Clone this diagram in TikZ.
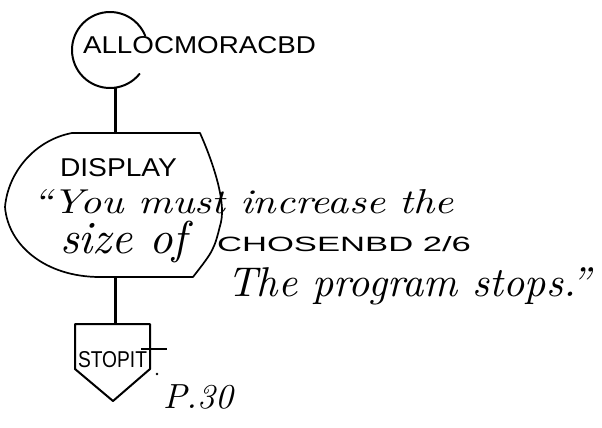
\documentclass[tikz,border=0pt]{standalone}
\usepackage{fontspec}
\setsansfont{Liberation Sans}
\usepackage{graphicx}
\newcommand{\myfit}[3]{\resizebox{#1pt}{#2}{#3}}
\begin{document}
\begin{tikzpicture}[x=1pt,y=-1pt,
  shapeline/.style={line width=1.7pt, line join=round, line cap=round},
  link/.style={line width=3pt},
  txt/.style={anchor=base west, inner sep=0pt, outer sep=0pt}]
\useasboundingbox (0,0) rectangle (602,428);
\fill[white] (0,0) rectangle (602,428);

% start circle (open on the right where the name runs through it)
\coordinate (startc) at (110,50);
\coordinate (startbot) at (115,88);
\draw[shapeline, line width=2pt] (startc) ++(39:38) arc[start angle=39, end angle=338, radius=38];
\node[txt] (lblstart) at (83,53) {\myfit{233}{17pt}{\sffamily ALLOCMORACBD}};

% display shape
\coordinate (disptop) at (115,133);
\coordinate (dispbot) at (115,277);
\draw[shapeline] (72,133) -- (200,133)
  .. controls (212,160) and (226,200) .. (221,222)
  .. controls (214,250) .. (193,277) -- (100,277)
  .. controls (45,277) and (8,245) .. (5,207)
  .. controls (8,172) and (35,140) .. (72,133) -- cycle;
\node[txt] (lbldisp) at (60,176) {\myfit{117}{18pt}{\sffamily DISPLAY}};
\node[txt] (lblline1) at (32,213) {\myfit{422}{24pt}{\itshape ``You must increase the}};
\node[txt] (lblline2a) at (60,253) {\myfit{127}{!}{\itshape size of}};
\node[txt] (lblline2b) at (217,251) {\myfit{254}{15pt}{\sffamily CHOSENBD 2/6}};
\node[txt] (lblline3) at (227,296) {\myfit{364}{!}{\itshape The program stops.''}};

% stop shape
\coordinate (stoptop) at (115,324);
\draw[shapeline, line width=2pt] (75,324) -- (150,324) -- (150,369) -- (113,401) -- (75,369) -- cycle;
\node[txt] (lblstop) at (78,367) {\myfit{69}{16pt}{\sffamily STOPIT}};
\coordinate (tbarl) at (141,349);
\coordinate (tbarr) at (167,349);
\draw[line width=2pt] (tbarl) -- (tbarr);
\fill (157,374) circle (1.3);
\node[txt] (lblpage) at (163,408) {\myfit{70}{!}{\itshape P.30}};

% connectors
\draw[link] (startbot) -- (disptop);
\draw[link] (dispbot) -- (stoptop);
\end{tikzpicture}
\end{document}
